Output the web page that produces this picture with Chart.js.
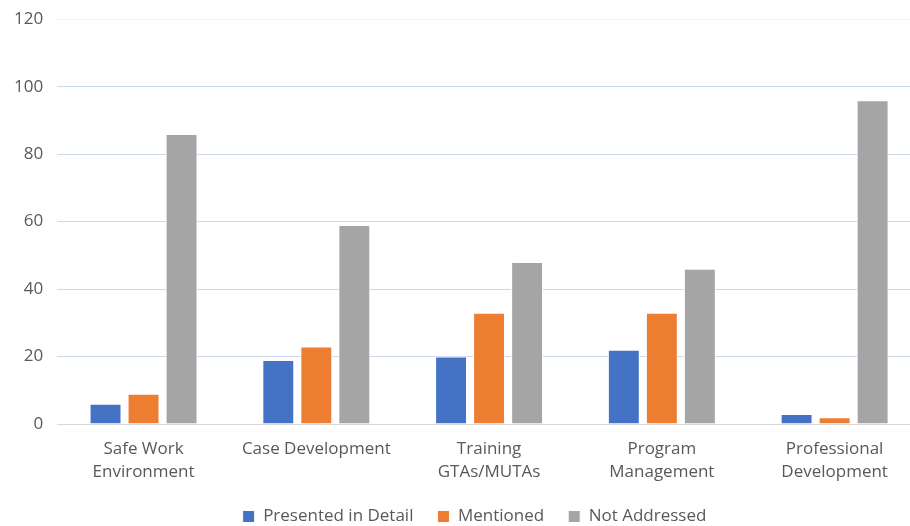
<!DOCTYPE html>
<html>
<head>
<meta charset="utf-8">
<script src="https://cdn.jsdelivr.net/npm/chart.js@4/dist/chart.umd.min.js"></script>
<style>
html,body{margin:0;padding:0;background:#fff;overflow:hidden;}
#wrap{width:910px;height:526px;position:relative;overflow:hidden;}
#c{position:absolute;left:0;top:-5px;}
</style>
</head>
<body>
<div id="wrap"><canvas id="c" width="921" height="540"></canvas></div>
<script>
const categories = [["Safe Work","Environment"],"Case Development",["Training","GTAs/MUTAs"],["Program","Management"],["Professional","Development"]];
const presentedInDetail = [6, 19, 20, 22, 3];
const mentioned = [9, 23, 33, 33, 2];
const notAddressed = [86, 59, 48, 46, 96];
const yTicks = [0, 20, 40, 60, 80, 100, 120];

const font = "'Open Sans', 'Liberation Sans', sans-serif";
const legendShift = {
  id: 'legendShift',
  afterLayout(chart) {
    const l = chart.legend;
    if (l) { l.left += 14; l.right += 14; }
  }
};
new Chart(document.getElementById('c'), {
  type: 'bar',
  data: {
    labels: categories,
    datasets: [
      {label: 'Presented in Detail', data: presentedInDetail, backgroundColor: '#4472C4', borderColor: '#ffffff', borderWidth: 1},
      {label: 'Mentioned', data: mentioned, backgroundColor: '#ED7D31', borderColor: '#ffffff', borderWidth: 1},
      {label: 'Not Addressed', data: notAddressed, backgroundColor: '#A5A5A5', borderColor: '#ffffff', borderWidth: 1}
    ]
  },
  plugins: [legendShift],
  options: {
    responsive: false,
    animation: false,
    devicePixelRatio: 1,
    layout: {padding: {left: 0, right: 0, top: 0, bottom: 0}},
    datasets: {bar: {categoryPercentage: 0.66, barPercentage: 0.84}},
    plugins: {
      legend: {
        position: 'bottom',
        labels: {
          font: {family: font, size: 17},
          color: '#595959',
          boxWidth: 12,
          boxHeight: 12,
          padding: 24
        }
      },
      tooltip: {enabled: false}
    },
    scales: {
      x: {
        grid: {display: false, drawTicks: false},
        border: {color: '#D9D9D9', width: 1},
        afterFit: (scale) => { scale.height = 60; },
        ticks: {font: {family: font, size: 17, lineHeight: 1.35}, color: '#595959', padding: 14, maxRotation: 0}
      },
      y: {
        min: 0, max: 120,
        afterBuildTicks: (axis) => { axis.ticks = yTicks.map(v => ({value: v})); },
        grid: {color: (ctx) => ctx.tick && ctx.tick.value === 120 ? '#F0F3FA' : '#CCD8EF', drawTicks: false, lineWidth: 1},
        border: {display: false},
        ticks: {font: {family: font, size: 17}, color: '#595959', padding: 14}
      }
    }
  }
});
</script>
</body>
</html>
